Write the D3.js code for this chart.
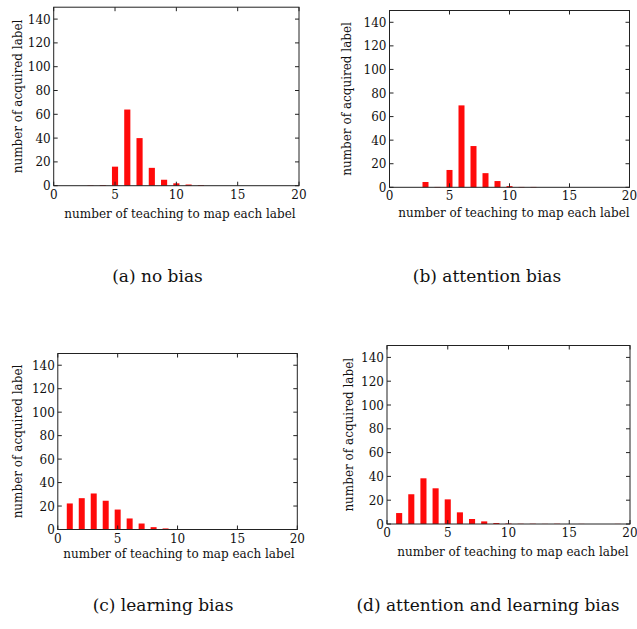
<!DOCTYPE html>
<html>
<head>
<meta charset="utf-8">
<script src="https://cdn.jsdelivr.net/npm/d3@7"></script>
<style>
  body { margin: 0; background: #fff; }
</style>
</head>
<body>
<div id="chart-area"></div>
<script>

// bins: number of teaching to map each label
var bins = d3.range(0, 21)

// counts per bin
var noBias        = [0, 0, 0, 0.3, 0.5, 16, 64, 40, 15, 5, 2, 1, 0.5, 0, 0, 0, 0, 0, 0, 0, 0]
var attentionBias = [0, 0, 0, 4.5, 0.3, 14.7, 69.5, 35, 12, 5.3, 1, 0.3, 0.3, 0, 0, 0, 0, 0, 0, 0, 0]
var learningBias  = [0, 22.2, 26.7, 30.7, 24.5, 17, 9.4, 5.1, 2, 0.9, 0.3, 0.2, 0.2, 0.2, 0.2, 0, 0, 0, 0, 0, 0]
var bothBias      = [0, 9.2, 25, 38.4, 30, 20.7, 9.8, 4.2, 2.2, 0.8, 0.4, 0.2, 0.2, 0.1, 0.2, 0, 0.1, 0, 0, 0.1, 0]

var xTicks = [0, 5, 10, 15, 20]
var yTicks = [0, 20, 40, 60, 80, 100, 120, 140]

var captions = ["(a) no bias", "(b) attention bias", "(c) learning bias", "(d) attention and learning bias"]
var series = [noBias, attentionBias, learningBias, bothBias]

// panel placement on the page
var panels = [
  { x0: 53.7, x1: 299,   y0: 185.7, y1: 7.2,   ylab: 16.5, xlabX: 180, xlabY: 218, capX: 157.5, capY: 282 },
  { x0: 389.5, x1: 629.5, y0: 187.3, y1: 10.5, ylab: 346,  xlabX: 514, xlabY: 217, capX: 487,   capY: 282 },
  { x0: 57.8, x1: 297.3, y0: 529.5, y1: 353.5, ylab: 16.5, xlabX: 179, xlabY: 558, capX: 163,   capY: 611 },
  { x0: 387,  x1: 630,   y0: 524,   y1: 345.5, ylab: 348,  xlabX: 513, xlabY: 556, capX: 488,   capY: 611 }
]

var font = "'DejaVu Serif', serif"

var svg = d3.select("#chart-area").append("svg")
  .attr("width", 637)
  .attr("height", 629)
  .attr("font-family", font)

panels.forEach(function(p, i) {
  var data = series[i]

  var x = d3.scaleLinear().domain([0, 20]).range([p.x0, p.x1])
  var y = d3.scaleLinear().domain([0, 150]).range([p.y0, p.y1])

  var g = svg.append("g")

  // bars
  var bw = x(0.5) - x(0)
  g.selectAll("rect.bar")
    .data(bins.filter(function(b) { return data[b] > 0 }))
    .enter().append("rect")
      .attr("class", "bar")
      .attr("x", function(b) { return x(b) - bw / 2 })
      .attr("width", bw)
      .attr("y", function(b) { return y(data[b]) })
      .attr("height", function(b) { return y(0) - y(data[b]) })
      .attr("fill", "#ff0a0a")

  // frame
  g.append("rect")
    .attr("x", p.x0)
    .attr("y", p.y1)
    .attr("width", p.x1 - p.x0)
    .attr("height", p.y0 - p.y1)
    .attr("fill", "none")
    .attr("stroke", "#222")
    .attr("stroke-width", 1)

  var tl = 4

  // inward ticks
  xTicks.forEach(function(t) {
    g.append("line").attr("x1", x(t)).attr("x2", x(t)).attr("y1", p.y0).attr("y2", p.y0 - tl).attr("stroke", "#222")
    g.append("line").attr("x1", x(t)).attr("x2", x(t)).attr("y1", p.y1).attr("y2", p.y1 + tl).attr("stroke", "#222")
  })
  yTicks.forEach(function(t) {
    g.append("line").attr("x1", p.x0).attr("x2", p.x0 + tl).attr("y1", y(t)).attr("y2", y(t)).attr("stroke", "#222")
    g.append("line").attr("x1", p.x1).attr("x2", p.x1 - tl).attr("y1", y(t)).attr("y2", y(t)).attr("stroke", "#222")
  })

  // tick labels
  g.selectAll("text.xt")
    .data(xTicks)
    .enter().append("text")
      .attr("class", "xt")
      .attr("x", function(t) { return x(t) })
      .attr("y", p.y0 + 13)
      .attr("text-anchor", "middle")
      .attr("font-size", "12px")
      .attr("fill", "#111")
      .text(function(t) { return t })

  g.selectAll("text.yt")
    .data(yTicks)
    .enter().append("text")
      .attr("class", "yt")
      .attr("x", p.x0 - 3)
      .attr("y", function(t) { return y(t) + 4.5 })
      .attr("text-anchor", "end")
      .attr("font-size", "12px")
      .attr("fill", "#111")
      .text(function(t) { return t })

  // axis labels
  g.append("text")
    .attr("x", p.xlabX)
    .attr("y", p.xlabY)
    .attr("text-anchor", "middle")
    .attr("font-size", "12px")
    .attr("fill", "#111")
    .text("number of teaching to map each label")

  g.append("text")
    .attr("transform", "translate(" + (p.ylab + 5) + "," + ((p.y0 + p.y1) / 2) + ") rotate(-90)")
    .attr("text-anchor", "middle")
    .attr("font-size", "12px")
    .attr("fill", "#111")
    .text("number of acquired label")

  // caption
  g.append("text")
    .attr("x", p.capX)
    .attr("y", p.capY)
    .attr("text-anchor", "middle")
    .attr("font-size", "17px")
    .attr("fill", "#111")
    .text(captions[i])
})

</script>
</body>
</html>
